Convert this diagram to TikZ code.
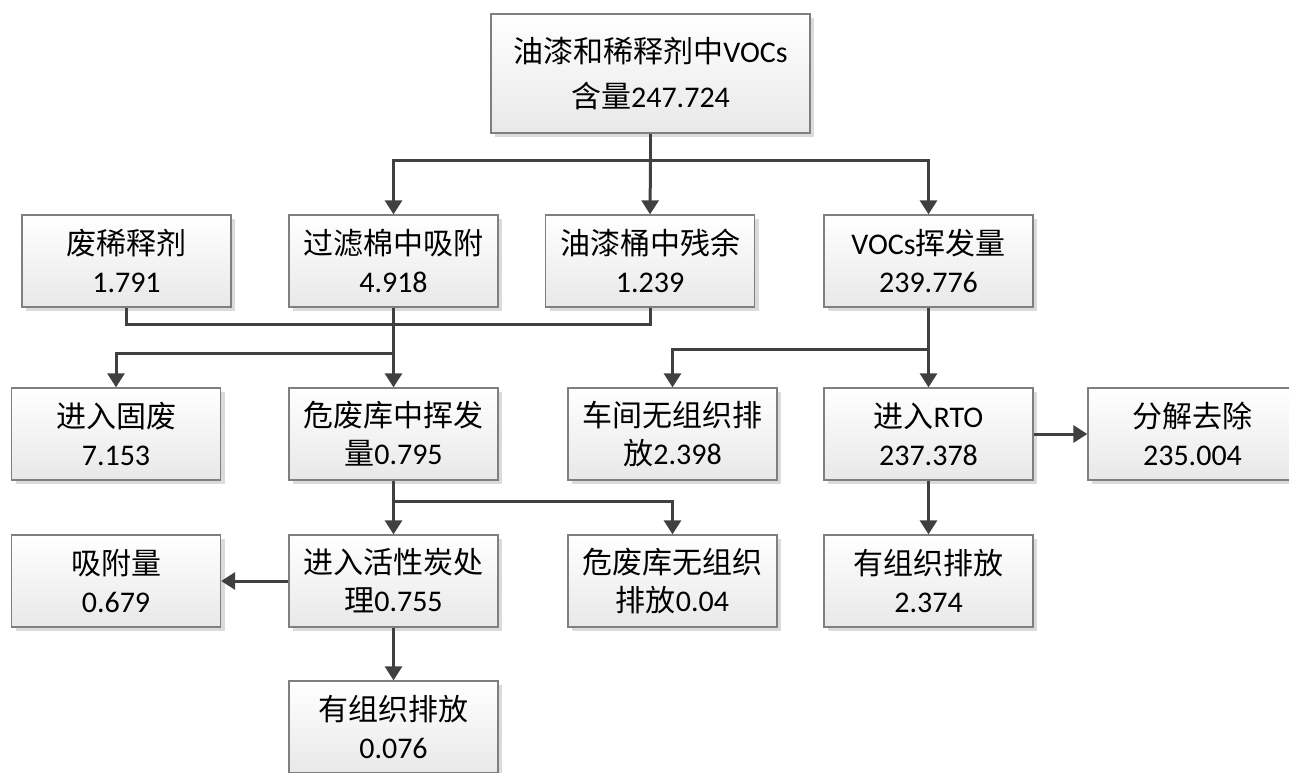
\documentclass[tikz,border=0pt]{standalone}
\usepackage{fontspec}
\setmainfont{Carlito}
\newfontfamily\cjk{Noto Sans CJK SC}
\usetikzlibrary{shadows,arrows.meta}
\definecolor{arrowgray}{HTML}{404040}
\definecolor{bordergray}{HTML}{7F7F7F}
\begin{document}
\begin{tikzpicture}[x=1pt,y=-1pt,
  box/.style={draw=bordergray, line width=1.3pt, top color=white, bottom color=black!9,
    drop shadow={shadow xshift=4pt, shadow yshift=-4pt, fill=black!14, opacity=1},
    minimum width=209pt, minimum height=92pt, align=center, inner sep=0pt,
    font=\fontsize{30}{38}\selectfont},
  topbox/.style={box, minimum width=319pt, minimum height=119pt,
    font=\fontsize{30}{45}\selectfont},
  conn/.style={draw=arrowgray, line width=3pt},
  arr/.style={conn, -{Triangle[length=14pt,width=17pt]}}
]
\useasboundingbox (0,0) rectangle (1289,772);

\node[topbox] (top) at (650.5,73.5) {{\cjk 油漆和稀释剂中}VOCs\\{\cjk 含量}247.724};

\node[box] (fx)  at (126.5,261) {{\cjk 废稀释剂}\\1.791};
\node[box] (glm) at (393.5,261) {{\cjk 过滤棉中吸附}\\4.918};
\node[box] (yqt) at (650,261)   {{\cjk 油漆桶中残余}\\1.239};
\node[box] (voc) at (928.5,261) {VOCs{\cjk 挥发量}\\239.776};

\node[box] (gf)  at (116,434)   {{\cjk 进入固废}\\7.153};
\node[box] (wfk) at (393.5,434) {{\cjk 危废库中挥发}\\{\cjk 量}0.795};
\node[box] (cj)  at (672.5,434) {{\cjk 车间无组织排}\\{\cjk 放}2.398};
\node[box] (rto) at (928.5,434) {{\cjk 进入}RTO\\237.378};
\node[box] (fj)  at (1192.5,434) {{\cjk 分解去除}\\235.004};

\node[box] (xf)  at (116,581)   {{\cjk 吸附量}\\0.679};
\node[box] (hxt) at (393.5,581) {{\cjk 进入活性炭处}\\{\cjk 理}0.755};
\node[box] (wfw) at (672.5,581) {{\cjk 危废库无组织}\\{\cjk 排放}0.04};
\node[box] (yz2) at (928.5,581) {{\cjk 有组织排放}\\2.374};

\node[box] (yz0) at (393.5,727) {{\cjk 有组织排放}\\0.076};

% connectors
\coordinate (j1) at (650.5,160);
\coordinate (j2) at (393.5,324);
\coordinate (j3) at (393.5,353);
\coordinate (j4) at (928.5,349);
\coordinate (j5) at (393.5,501);

\draw[conn] (top.south) -- (j1);
\draw[arr] (j1) -| (glm.north);
\draw[arr] (j1) -- (yqt.north);
\draw[arr] (j1) -| (voc.north);

\draw[conn] (fx.south) |- (j2) -| (yqt.south);
\draw[arr] (glm.south) -- (wfk.north);
\draw[arr] (j3) -| (gf.north);

\draw[arr] (voc.south) -- (rto.north);
\draw[arr] (j4) -| (cj.north);
\draw[arr] (rto.east) -- (fj.west);
\draw[arr] (rto.south) -- (yz2.north);

\draw[arr] (wfk.south) -- (hxt.north);
\draw[arr] (j5) -| (wfw.north);
\draw[arr] (hxt.west) -- (xf.east);
\draw[arr] (hxt.south) -- (yz0.north);
\end{tikzpicture}
\end{document}
